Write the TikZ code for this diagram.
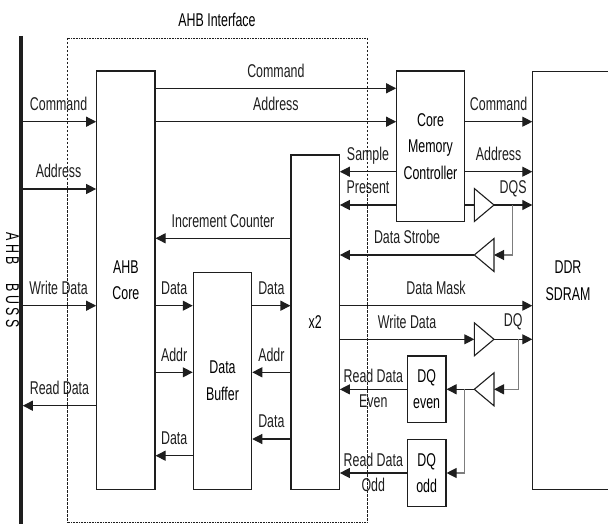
\documentclass[tikz,border=0pt]{standalone}
\usepackage{fontspec}
\setmainfont{Liberation Sans}[FakeStretch=0.67]
\usetikzlibrary{arrows.meta,positioning,calc}
\definecolor{lineclr}{RGB}{30,30,30}
\definecolor{fbclr}{RGB}{125,125,125}
\tikzset{
  sigln/.style={-{Triangle[length=10pt,width=10pt]}, line width=1.1pt, lineclr},
  plainln/.style={line width=1.1pt, lineclr, line join=miter},
  fbln/.style={-{Triangle[length=10pt,width=10pt,color=lineclr]}, line width=1.1pt, fbclr},
  blk/.style={draw=lineclr, line width=1.1pt, inner sep=0pt, align=center},
  frameln/.style={line width=0.7pt, lineclr},
  lbl/.style={above=10.5pt, inner sep=0pt, text depth=0pt},
  lblb/.style={below=5pt, inner sep=0pt},
}
% driver triangles: name, base x, centre y
\newcommand{\ampr}[3]{%
  \draw[plainln] (#2,#3) ++(0,-16.5) -- ++(0,33) -- ++(19.7,-16.5) -- cycle;
  \path (#2,#3) coordinate (#1-in) ++(19.7,0) coordinate (#1-out);
}
\newcommand{\ampl}[3]{%
  \draw[plainln] (#2,#3) ++(0,-16.5) -- ++(0,33) -- ++(-19.7,-16.5) -- cycle;
  \path (#2,#3) coordinate (#1-in) ++(-19.7,0) coordinate (#1-out);
}

\begin{document}
\begin{tikzpicture}[x=1pt, y=-1pt, font=\fontsize{18.5}{26.5}\selectfont]
    \useasboundingbox (0,0) rectangle (608,524);
    % interface frame
    \draw[frameln, dash pattern=on 0.8pt off 0.8pt] (67.7,38) -- (367.7,38)
      (67.7,522.7) -- (367.7,522.7);
    \draw[frameln, dash pattern=on 2.5pt off 1.5pt] (67.7,38) -- (67.7,522.7)
      (367.7,38) -- (367.7,522.7);
    \node (ttl) at (217,20) {AHB Interface};

    % blocks
    \node[blk, minimum width=58.3pt, minimum height=418.3pt] (core) at (125.85,280.15) {AHB\\Core};
    \node[blk, minimum width=58.4pt, minimum height=217pt] (buf) at (222.5,380.8) {Data\\Buffer};
    \node[blk, minimum width=48.3pt, minimum height=334.3pt] (x2) at (315.15,322.15) {x2};
    \node[blk, minimum width=67.6pt, minimum height=150.7pt] (cmc) at (430.5,146.35) {Core\\Memory\\Controller};
    \node[blk, minimum width=38.7pt, minimum height=66.7pt] (dqe) at (426.65,389.35) {DQ\\even};
    \node[blk, minimum width=38.7pt, minimum height=67.4pt] (dqo) at (426.65,473) {DQ\\odd};
    \node[blk, anchor=north west, minimum width=110pt, minimum height=418.3pt] (ddr) at (532.3,71) {};
    \node[align=center] (ddrtxt) at (568,280.5) {DDR\\SDRAM};

    % AHB bus
    \coordinate (bus) at (21,36);
    \coordinate (busend) at (21,524);
    \node[rotate=-90] (bustxt) at (12.5,280) {A H B\quad B U S S};
    \foreach \y/\txt in {121.7/Command, 189/Address, 305.7/Write Data}
      \draw[sigln] (bus |- 0,\y) -- node[lbl]{\txt} (core.west |- 0,\y);
    \draw[sigln] (core.west |- 0,405.7) -- node[lbl]{Read Data} ([xshift=1.8pt]bus |- 0,405.7);
    \draw[line width=3.6pt, lineclr] (bus) -- (busend);

    % core side
    \draw[sigln] (core.east |- 0,88.3) -- node[lbl]{Command} (cmc.west |- 0,88.3);
    \draw[sigln] (core.east |- 0,121.7) -- node[lbl]{Address} (cmc.west |- 0,121.7);
    \draw[sigln] (x2.west |- 0,238.3) -- node[lbl]{Increment Counter} (core.east |- 0,238.3);
    \draw[sigln] (core.east |- 0,305.7) -- node[lbl]{Data} (buf.west |- 0,305.7);
    \draw[sigln] (core.east |- 0,372.3) -- node[lbl]{Addr} (buf.west |- 0,372.3);
    \draw[sigln] (buf.west |- 0,455.7) -- node[lbl]{Data} (core.east |- 0,455.7);
    \draw[sigln] (buf.east |- 0,305.7) -- node[lbl]{Data} (x2.west |- 0,305.7);
    \draw[sigln] (x2.west |- 0,372.3) -- node[lbl]{Addr} (buf.east |- 0,372.3);
    \draw[sigln] (x2.west |- 0,439) -- node[lbl]{Data} (buf.east |- 0,439);

    % controller side
    \draw[sigln] (cmc.east |- 0,121.7) -- node[lbl]{Command} (ddr.west |- 0,121.7);
    \draw[sigln] (cmc.east |- 0,171.7) -- node[lbl]{Address} (ddr.west |- 0,171.7);
    \draw[sigln] (cmc.west |- 0,171.7) -- node[lbl]{Sample} (x2.east |- 0,171.7);
    \draw[sigln] (cmc.west |- 0,205) -- node[lbl]{Present} (x2.east |- 0,205);

    % strobe
    \ampr{dqs}{474.3}{205}
    \ampl{strb}{494}{255}
    \draw[plainln] (cmc.east |- dqs-in) -- (dqs-in);
    \draw[sigln] (dqs-out) -- node[lbl]{DQS} (ddr.west |- dqs-out);
    \coordinate (dqstap) at (512.3,205);
    \draw[fbln] (dqstap) |- (strb-in);
    \draw[sigln] (strb-out) -- node[lbl]{Data Strobe} (x2.east |- strb-out);

    % data path
    \draw[sigln] (x2.east |- 0,305.7) -- node[lbl]{Data Mask} (ddr.west |- 0,305.7);
    \ampr{wr}{474.3}{339.3}
    \ampl{rd}{494}{389.3}
    \draw[sigln] (x2.east |- wr-in) -- node[lbl]{Write Data} (wr-in);
    \draw[sigln] (wr-out) -- node[lbl, above=12pt]{DQ} (ddr.west |- wr-out);
    \coordinate (dqtap) at (518.3,339.3);
    \draw[fbln] (dqtap) |- (rd-in);
    \coordinate (dqjn) at (464.3,389.3);
    \draw[sigln] (rd-out) -- (dqe.east |- rd-out);
    \draw[fbln] (dqjn) |- (dqo.east);
    \draw[sigln] (dqe.west) -- node[lbl, above=6pt]{Read Data} node[lblb]{Even} (x2.east |- dqe.west);
    \draw[sigln] (dqo.west) -- node[lbl, above=6pt]{Read Data} node[lblb]{Odd} (x2.east |- dqo.west);
  \end{tikzpicture}
\end{document}
